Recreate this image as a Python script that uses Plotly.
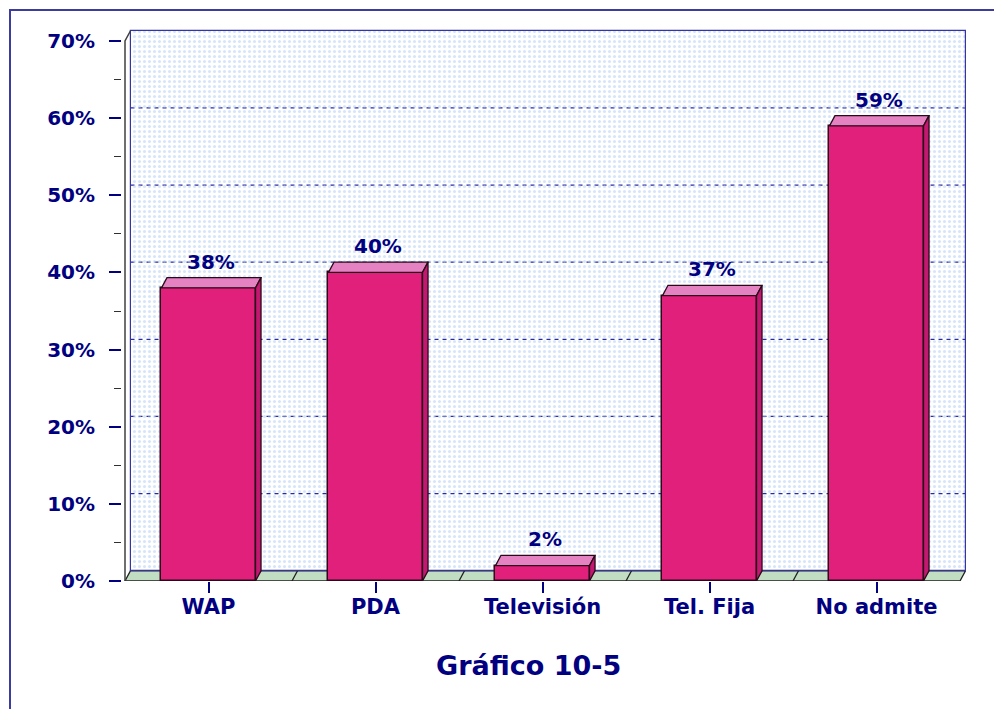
import plotly.graph_objects as go

# Source values
categories = ["WAP", "PDA", "Televisión", "Tel. Fija", "No admite"]
shares = [0.38, 0.40, 0.02, 0.37, 0.59]
y_tick_values = [0.0, 0.1, 0.2, 0.3, 0.4, 0.5, 0.6, 0.7]
y_tick_labels = ["0%", "10%", "20%", "30%", "40%", "50%", "60%", "70%"]
y_minor_values = [0.05, 0.15, 0.25, 0.35, 0.45, 0.55, 0.65]
title_text = "Gráfico 10-5"

NAVY = "#000080"
FONT = "DejaVu Sans"
FRONT = "#e0207a"
TOP = "#e482c2"
SIDE = "#c21870"
EDGE = "#2a0a1a"
FLOOR = "#c2dec2"

# depth offset of the pseudo-3D projection (data units)
DX, DY = 0.033, 0.0133
BAR_W = 0.563
YMAX_FRONT = 0.7

xpos = list(range(len(categories)))
n = len(categories)
x_lo, x_hi = -0.5, n - 0.5

fig = go.Figure()

# back wall with a dotted fill, shifted by the depth offset
fig.add_trace(go.Bar(
    x=[(n - 1) / 2 + DX], y=[YMAX_FRONT], base=[DY], width=[n],
    marker=dict(
        color="rgba(255,255,255,0)",
        line=dict(color="#3434a4", width=1.2),
        pattern=dict(shape=".", size=5, solidity=0.3, fgcolor="#aecbf3",
                     bgcolor="rgba(255,255,255,0)", fillmode="overlay"),
    ),
    hoverinfo="skip", showlegend=False,
))

# front faces of the bars
fig.add_trace(go.Bar(
    x=xpos, y=shares, width=BAR_W,
    marker=dict(color=FRONT, line=dict(color=EDGE, width=1.5)),
    hovertemplate="%{y:.0%}<extra></extra>", showlegend=False,
))

shapes = []

# dashed gridlines on the back wall
for v in y_tick_values[1:-1]:
    shapes.append(dict(
        type="line", xref="x", yref="y", layer="below",
        x0=x_lo + DX, x1=x_hi + DX, y0=v + DY, y1=v + DY,
        line=dict(color="#2a2aa0", width=1.2, dash="4px,4px"),
    ))

# floor
shapes.append(dict(
    type="path", xref="x", yref="y", layer="below",
    path=f"M {x_lo},0 L {x_hi},0 L {x_hi + DX},{DY} L {x_lo + DX},{DY} Z",
    fillcolor=FLOOR, line=dict(color="#202020", width=1.3),
))
for k in range(1, n):
    xb = x_lo + k
    shapes.append(dict(
        type="line", xref="x", yref="y", layer="below",
        x0=xb, y0=0, x1=xb + DX, y1=DY,
        line=dict(color="#202020", width=1.3),
    ))

# top and side faces of every bar
for i, v in zip(xpos, shares):
    x0, x1 = i - BAR_W / 2, i + BAR_W / 2
    shapes.append(dict(
        type="path", xref="x", yref="y", layer="above",
        path=f"M {x0},{v} L {x1},{v} L {x1 + DX},{v + DY} L {x0 + DX},{v + DY} Z",
        fillcolor=TOP, line=dict(color=EDGE, width=1.3),
    ))
    shapes.append(dict(
        type="path", xref="x", yref="y", layer="above",
        path=f"M {x1},0 L {x1},{v} L {x1 + DX},{v + DY} L {x1 + DX},{DY} Z",
        fillcolor=SIDE, line=dict(color=EDGE, width=1.3),
    ))

# vertical axis line with its receding top
shapes.append(dict(
    type="path", xref="x", yref="y", layer="above",
    path=f"M {x_lo},0 L {x_lo},{YMAX_FRONT} L {x_lo + DX},{YMAX_FRONT + DY}",
    line=dict(color="#404040", width=1.5),
))

# outer frame around the chart
L, R, T, B = 122, 28, 29, 128
W, H = 994, 709
pw, ph = W - L - R, H - T - B
shapes.append(dict(
    type="rect", xref="paper", yref="paper", layer="above",
    x0=(10 - L) / pw, x1=(W + 12 - L) / pw,
    y0=(H - B - 720) / ph, y1=(H - B - 10) / ph,
    line=dict(color="#3c3ca0", width=2), fillcolor="rgba(0,0,0,0)",
))

# value labels above the top faces
annotations = [
    dict(
        text=f"{round(v * 100)}%", xref="x", yref="y",
        x=i + DX / 2, y=v + DY, xanchor="center", yanchor="bottom",
        yshift=2, showarrow=False,
        font=dict(family=FONT, size=20, color=NAVY, weight="bold"),
    )
    for i, v in zip(xpos, shares)
]
annotations.append(dict(
    text=title_text, xref="paper", yref="paper",
    x=(528 - L) / pw, y=(H - B - 665) / ph,
    xanchor="center", yanchor="middle", showarrow=False,
    font=dict(family=FONT, size=27, color=NAVY, weight="bold"),
))

px_per_x = 167.0
px_per_y = 540.0 / YMAX_FRONT
x_range = [x_lo - 3 / px_per_x, x_lo - 3 / px_per_x + pw / px_per_x]
y_range = [0, ph / px_per_y]

fig.update_layout(
    width=W, height=H, autosize=False,
    margin=dict(l=L, r=R, t=T, b=B, pad=0),
    paper_bgcolor="white", plot_bgcolor="white",
    barmode="overlay", bargap=0,
    shapes=shapes, annotations=annotations,
    xaxis=dict(
        range=x_range, tickmode="array", tickvals=xpos, ticktext=categories,
        ticks="outside", ticklen=11, tickwidth=1.5, tickcolor=NAVY,
        ticklabelstandoff=-4,
        showgrid=False, zeroline=False, showline=False, fixedrange=True,
        tickfont=dict(family=FONT, size=21, color=NAVY, weight="bold"),
    ),
    yaxis=dict(
        range=y_range, tickmode="array", tickvals=y_tick_values, ticktext=y_tick_labels,
        ticks="outside", ticklen=12, tickwidth=1.5, tickcolor=NAVY,
        ticklabelstandoff=10,
        minor=dict(tickmode="array", tickvals=y_minor_values, ticks="outside",
                   ticklen=7, tickwidth=1.2, tickcolor="#303030", showgrid=False),
        showgrid=False, zeroline=False, showline=False, fixedrange=True,
        tickfont=dict(family=FONT, size=20, color=NAVY, weight="bold"),
    ),
)

fig.write_html("out.html")
